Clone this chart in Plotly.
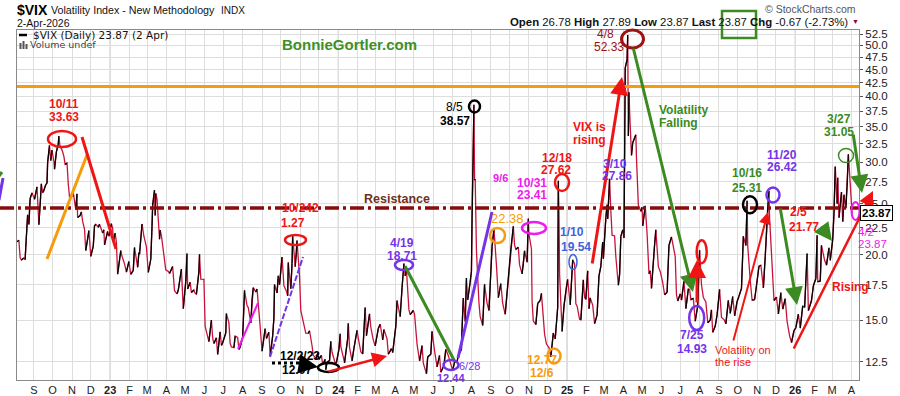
import plotly.graph_objects as go
import pandas as pd

# ---------------- data (VIX daily closes) ----------------
d2022 = ["2022-08-05","2022-08-08","2022-08-10","2022-08-12","2022-08-16","2022-08-18","2022-08-19","2022-08-22","2022-08-24","2022-08-26",
         "2022-08-29","2022-08-31","2022-09-02","2022-09-06","2022-09-08","2022-09-09","2022-09-13","2022-09-15","2022-09-16","2022-09-20",
         "2022-09-22","2022-09-23","2022-09-26","2022-09-28","2022-09-30","2022-10-03","2022-10-04","2022-10-07","2022-10-10","2022-10-11",
         "2022-10-13","2022-10-14","2022-10-17","2022-10-19","2022-10-21","2022-10-24","2022-10-26","2022-10-28","2022-10-31","2022-11-02",
         "2022-11-03","2022-11-07","2022-11-09","2022-11-10","2022-11-14","2022-11-16","2022-11-18","2022-11-21","2022-11-23","2022-11-28",
         "2022-11-30","2022-12-01","2022-12-05","2022-12-07","2022-12-09","2022-12-13","2022-12-15","2022-12-16","2022-12-20","2022-12-22",
         "2022-12-23","2022-12-28","2022-12-30"]
v2022 = [21.15,21.29,19.74,19.53,19.69,19.56,20.60,23.80,22.82,25.56,
         26.21,25.87,25.47,26.91,23.61,22.79,27.27,26.27,26.30,27.16,
         27.35,29.92,32.26,30.18,31.62,30.10,29.07,31.36,32.45,33.63,
         31.94,32.02,31.37,30.76,29.69,29.85,27.28,25.75,25.88,25.86,
         26.27,24.35,26.09,23.53,23.73,24.11,23.12,22.36,20.35,22.21,
         20.58,19.84,20.75,22.68,22.83,22.55,22.83,22.62,21.97,22.29,
         20.87,22.14,21.67]

d2023 = ["2023-01-03","2023-01-05","2023-01-06","2023-01-09","2023-01-11","2023-01-13","2023-01-18","2023-01-20","2023-01-24","2023-01-27",
         "2023-01-31","2023-02-02","2023-02-03","2023-02-07","2023-02-09","2023-02-14","2023-02-16","2023-02-17","2023-02-21","2023-02-24",
         "2023-02-28","2023-03-03","2023-03-07","2023-03-09","2023-03-10","2023-03-13","2023-03-14","2023-03-15","2023-03-17","2023-03-21",
         "2023-03-22","2023-03-24","2023-03-28","2023-03-31","2023-04-04","2023-04-06","2023-04-11","2023-04-14","2023-04-18","2023-04-20",
         "2023-04-25","2023-04-28","2023-05-02","2023-05-04","2023-05-05","2023-05-09","2023-05-11","2023-05-15","2023-05-17","2023-05-19",
         "2023-05-23","2023-05-24","2023-05-26","2023-05-31","2023-06-02","2023-06-06","2023-06-08","2023-06-12","2023-06-14","2023-06-16",
         "2023-06-20","2023-06-22","2023-06-26","2023-06-28","2023-06-30","2023-07-05","2023-07-06","2023-07-10","2023-07-12","2023-07-14",
         "2023-07-18","2023-07-20","2023-07-24","2023-07-26","2023-07-28","2023-08-01","2023-08-03","2023-08-04","2023-08-08","2023-08-10",
         "2023-08-14","2023-08-16","2023-08-18","2023-08-22","2023-08-24","2023-08-28","2023-08-31","2023-09-01","2023-09-06","2023-09-08",
         "2023-09-12","2023-09-14","2023-09-18","2023-09-20","2023-09-21","2023-09-25","2023-09-27","2023-09-29","2023-10-03","2023-10-05",
         "2023-10-06","2023-10-10","2023-10-12","2023-10-13","2023-10-17","2023-10-19","2023-10-20","2023-10-24","2023-10-26","2023-10-27",
         "2023-10-31","2023-11-02","2023-11-06","2023-11-08","2023-11-10","2023-11-14","2023-11-16","2023-11-20","2023-11-22","2023-11-27",
         "2023-11-29","2023-12-01","2023-12-05","2023-12-07","2023-12-11","2023-12-12","2023-12-14","2023-12-18","2023-12-20","2023-12-22",
         "2023-12-27","2023-12-29"]
v2023 = [22.90,22.46,21.13,21.97,21.09,18.35,20.34,19.85,19.20,18.51,
         19.40,18.73,18.33,18.66,20.63,18.91,20.17,20.02,22.87,21.67,
         20.70,18.49,19.59,22.61,24.80,26.52,23.73,26.14,25.51,21.38,
         22.26,21.74,19.97,18.70,18.58,18.40,18.97,17.07,16.83,17.10,
         18.76,15.78,17.78,20.09,17.19,17.71,16.93,17.12,16.87,16.81,
         18.53,20.03,17.95,17.94,14.60,13.96,13.65,15.01,13.88,13.54,
         13.88,12.91,14.25,13.43,13.59,14.18,15.44,14.84,13.54,13.34,
         13.30,13.99,13.91,13.19,13.33,13.93,15.92,17.10,15.99,15.85,
         14.82,16.46,17.30,16.97,17.20,15.08,13.57,13.09,14.45,13.84,
         14.23,12.82,14.00,15.14,17.54,16.90,18.22,17.52,19.78,18.58,
         17.45,17.03,16.69,19.32,17.21,19.22,21.71,18.97,20.19,21.27,
         18.14,15.66,14.89,14.45,14.17,14.16,14.32,13.41,12.85,12.69,
         12.98,12.63,12.85,12.35,12.63,12.07,12.48,12.56,13.67,13.03,
         12.43,12.45]

d2024 = ["2024-01-02","2024-01-04","2024-01-05","2024-01-09","2024-01-11","2024-01-16","2024-01-17","2024-01-19","2024-01-23","2024-01-26",
         "2024-01-31","2024-02-02","2024-02-06","2024-02-09","2024-02-13","2024-02-15","2024-02-20","2024-02-22","2024-02-26","2024-02-29",
         "2024-03-05","2024-03-08","2024-03-12","2024-03-14","2024-03-19","2024-03-21","2024-03-26","2024-03-28","2024-04-02","2024-04-04",
         "2024-04-09","2024-04-12","2024-04-15","2024-04-17","2024-04-19","2024-04-23","2024-04-25","2024-04-30","2024-05-02","2024-05-06",
         "2024-05-10","2024-05-14","2024-05-16","2024-05-21","2024-05-23","2024-05-28","2024-05-30","2024-06-03","2024-06-07","2024-06-11",
         "2024-06-13","2024-06-18","2024-06-21","2024-06-25","2024-06-28","2024-07-02","2024-07-05","2024-07-09","2024-07-11","2024-07-16",
         "2024-07-17","2024-07-19","2024-07-22","2024-07-24","2024-07-26","2024-07-30","2024-08-01","2024-08-02","2024-08-05","2024-08-06",
         "2024-08-07","2024-08-08","2024-08-09","2024-08-13","2024-08-15","2024-08-19","2024-08-22","2024-08-26","2024-08-29","2024-09-03",
         "2024-09-06","2024-09-10","2024-09-13","2024-09-17","2024-09-20","2024-09-24","2024-09-27","2024-10-01","2024-10-03","2024-10-07",
         "2024-10-09","2024-10-11","2024-10-15","2024-10-17","2024-10-21","2024-10-23","2024-10-25","2024-10-29","2024-10-31","2024-11-01",
         "2024-11-05","2024-11-06","2024-11-08","2024-11-12","2024-11-15","2024-11-19","2024-11-21","2024-11-26","2024-11-29","2024-12-03",
         "2024-12-06","2024-12-10","2024-12-13","2024-12-17","2024-12-18","2024-12-19","2024-12-20","2024-12-24","2024-12-27","2024-12-31"]
v2024 = [13.20,14.13,13.35,12.76,12.44,13.84,14.79,13.30,12.55,13.26,
         14.35,13.85,13.06,12.93,15.85,14.01,15.42,14.54,13.74,13.40,
         14.46,14.74,13.75,14.40,13.82,12.92,13.24,13.01,14.61,16.35,
         15.23,17.31,19.23,18.21,18.71,15.69,15.37,15.65,15.39,13.49,
         12.55,13.42,12.42,11.86,12.77,12.92,14.28,13.11,12.22,12.85,
         11.94,12.30,13.20,12.84,12.44,12.03,12.48,12.51,12.85,13.19,
         14.48,16.52,14.91,18.04,16.39,17.69,18.59,23.39,38.57,27.71,
         27.85,23.79,20.37,16.19,15.23,14.65,17.55,16.15,15.65,20.72,
         22.38,19.08,16.56,17.61,16.15,15.39,16.96,19.26,20.49,22.64,
         20.86,20.46,20.64,19.11,18.37,19.24,20.33,19.34,23.41,21.88,
         20.49,16.27,14.94,14.71,16.14,16.35,16.87,14.10,13.51,13.30,
         12.77,14.18,13.81,15.87,27.62,24.09,18.36,14.27,15.95,17.35]

d2025 = ["2025-01-02","2025-01-06","2025-01-08","2025-01-10","2025-01-13","2025-01-15","2025-01-17","2025-01-21","2025-01-23","2025-01-27",
         "2025-01-29","2025-01-31","2025-02-03","2025-02-05","2025-02-07","2025-02-11","2025-02-14","2025-02-18","2025-02-21","2025-02-24",
         "2025-02-27","2025-02-28","2025-03-04","2025-03-06","2025-03-07","2025-03-10","2025-03-12","2025-03-14","2025-03-18","2025-03-20",
         "2025-03-24","2025-03-26","2025-03-28","2025-03-31","2025-04-02","2025-04-03","2025-04-04","2025-04-07","2025-04-08","2025-04-09",
         "2025-04-10","2025-04-11","2025-04-14","2025-04-16","2025-04-21","2025-04-22","2025-04-24","2025-04-25","2025-04-29","2025-05-01",
         "2025-05-02","2025-05-06","2025-05-09","2025-05-12","2025-05-14","2025-05-16","2025-05-21","2025-05-23","2025-05-27","2025-05-30",
         "2025-06-03","2025-06-06","2025-06-10","2025-06-13","2025-06-17","2025-06-20","2025-06-23","2025-06-25","2025-06-27","2025-07-01",
         "2025-07-03","2025-07-07","2025-07-10","2025-07-14","2025-07-16","2025-07-18","2025-07-22","2025-07-25","2025-07-29","2025-08-01",
         "2025-08-04","2025-08-07","2025-08-11","2025-08-14","2025-08-18","2025-08-20","2025-08-22","2025-08-26","2025-08-29","2025-09-02",
         "2025-09-05","2025-09-09","2025-09-12","2025-09-16","2025-09-19","2025-09-23","2025-09-26","2025-09-30","2025-10-03","2025-10-07",
         "2025-10-10","2025-10-14","2025-10-16","2025-10-17","2025-10-21","2025-10-24","2025-10-28","2025-10-31","2025-11-04","2025-11-07",
         "2025-11-11","2025-11-14","2025-11-18","2025-11-20","2025-11-21","2025-11-25","2025-11-28","2025-12-02","2025-12-05","2025-12-09",
         "2025-12-12","2025-12-16","2025-12-19","2025-12-23","2025-12-26","2025-12-30"]
v2025 = [17.93,16.04,17.70,19.54,19.19,16.12,15.97,15.06,15.02,17.90,
         16.56,16.43,18.62,15.77,16.54,16.02,14.77,15.35,18.21,18.98,
         21.13,19.63,23.51,24.87,23.37,27.86,24.23,21.77,21.70,19.80,
         17.48,18.33,21.65,22.28,21.51,30.02,45.31,46.98,52.33,33.62,
         40.72,37.56,30.89,32.64,33.82,30.57,26.47,24.84,24.17,24.60,
         22.68,24.76,21.90,18.39,18.62,17.24,20.87,22.29,18.96,18.57,
         17.69,16.77,16.95,20.82,21.60,20.62,19.83,16.76,16.32,16.83,
         16.38,17.79,15.78,17.20,17.16,16.41,16.50,14.93,15.98,20.38,
         17.52,16.57,16.25,14.83,15.00,15.69,14.22,14.62,15.36,17.17,
         15.18,15.04,14.76,16.36,15.45,16.64,15.29,16.28,16.65,17.24,
         21.66,20.81,25.31,20.78,17.87,16.37,16.42,17.44,19.00,19.08,
         17.28,19.83,24.69,26.42,23.43,18.56,16.35,16.59,15.41,16.93,
         15.74,16.48,14.91,14.00,13.60,14.33]

d2026 = ["2026-01-02","2026-01-06","2026-01-09","2026-01-13","2026-01-16","2026-01-20","2026-01-22","2026-01-27","2026-01-30","2026-02-03",
         "2026-02-05","2026-02-06","2026-02-10","2026-02-12","2026-02-17","2026-02-20","2026-02-24","2026-02-26","2026-03-02","2026-03-04",
         "2026-03-06","2026-03-09","2026-03-10","2026-03-12","2026-03-16","2026-03-18","2026-03-20","2026-03-23","2026-03-25","2026-03-27",
         "2026-03-30","2026-03-31","2026-04-01","2026-04-02"]
v2026 = [14.51,15.40,14.49,15.98,15.86,20.09,15.64,16.35,17.44,18.00,
         21.77,17.76,17.79,20.82,19.50,19.09,20.60,19.50,21.40,24.00,
         29.40,25.00,28.00,23.50,26.30,23.10,26.00,24.50,27.00,31.05,
         27.20,25.50,24.54,23.87]

vix_dates = d2022 + d2023 + d2024 + d2025 + d2026
vix_close = v2022 + v2023 + v2024 + v2025 + v2026

month_letters = ["J", "F", "M", "A", "M", "J", "J", "A", "S", "O", "N", "D"]
y_ticks = [12.5, 15.0, 17.5, 20.0, 22.5, 25.0, 27.5, 30.0, 32.5, 35.0, 37.5, 40.0, 42.5, 45.0, 47.5, 50.0, 52.5]

# ---------------- styling / helpers ----------------
FONT = "Liberation Sans, Arial, sans-serif"
RED = "#f01515"
DARKRED = "#9b1313"
GREEN = "#3c8a22"
ORANGE = "#f59b0c"
PURPLE = "#7434e8"
MAGENTA = "#ee1aee"
BLUE = "#3f63dc"
LINE_RED = "#c8143c"

L, R, T, B = 17.0, 859.0, 30.0, 380.0


def px(x):
    return (x - L) / (R - L)


def py(y):
    return (B - y) / (B - T)


shapes = []
annotations = []


def text(x, y, s, color, size=12, bold=True, anchor="center", family=FONT):
    annotations.append(dict(xref="paper", yref="paper", x=px(x), y=py(y),
                            text=("<b>%s</b>" % s) if bold else s, showarrow=False,
                            font=dict(color=color, size=size, family=family),
                            xanchor=anchor, yanchor="middle"))


def ellipse(cx, cy, w, h, color, lw=2.5):
    shapes.append(dict(type="circle", xref="paper", yref="paper",
                       x0=px(cx - w / 2), x1=px(cx + w / 2), y0=py(cy + h / 2), y1=py(cy - h / 2),
                       line=dict(color=color, width=lw)))


def seg(x0, y0, x1, y1, color, lw=3, dash="solid"):
    shapes.append(dict(type="line", xref="paper", yref="paper",
                       x0=px(x0), y0=py(y0), x1=px(x1), y1=py(y1),
                       line=dict(color=color, width=lw, dash=dash)))


def arrow(x0, y0, x1, y1, color, lw=3, size=1.2):
    annotations.append(dict(xref="paper", yref="paper", x=px(x1), y=py(y1),
                            ax=x0 - x1, ay=y0 - y1, axref="pixel", ayref="pixel",
                            text="", showarrow=True, arrowhead=2, arrowsize=size,
                            arrowwidth=lw, arrowcolor=color))


# ---------------- traces ----------------
dates = pd.to_datetime(vix_dates)
up_x, up_y = [], []
for i in range(1, len(vix_close)):
    if vix_close[i] > vix_close[i - 1]:
        up_x += [dates[i - 1], dates[i], None]
        up_y += [vix_close[i - 1], vix_close[i], None]

fig = go.Figure()
fig.add_trace(go.Scatter(x=dates, y=vix_close, mode="lines",
                         line=dict(color=LINE_RED, width=1.3), hoverinfo="skip"))
fig.add_trace(go.Scatter(x=up_x, y=up_y, mode="lines", connectgaps=False,
                         line=dict(color="black", width=1.3), hoverinfo="skip"))

# ---------------- axes ticks ----------------
months = pd.date_range("2022-09-01", "2026-04-01", freq="MS")
tick_text = [("<b>%02d</b>" % (m.year % 100)) if m.month == 1 else month_letters[m.month - 1] for m in months]
for yr in [2023, 2024, 2025, 2026]:
    shapes.append(dict(type="line", xref="x", yref="paper", x0="%d-01-01" % yr, x1="%d-01-01" % yr,
                       y0=0, y1=1, line=dict(color="#b5b5b5", width=1), layer="between"))

# ---------------- chart annotations ----------------
seg(L, 86.5, R, 86.5, ORANGE, 3)                                   # orange level
seg(0, 208, 860, 208, "#8b0b0b", 3.5, "14px,4px,3px,4px")          # resistance
text(397, 199, "Resistance", "#6e3222", 12.5)

seg(-1, 200, 3, 178, PURPLE, 3)
seg(-1, 176, 2, 172, GREEN, 3)

ellipse(62, 139, 28, 16, RED)
text(64, 104, "10/11", RED)
text(64, 117, "33.63", RED)
seg(47, 259, 87, 155, ORANGE, 3)
seg(82, 137, 116, 249, RED, 3)

seg(238, 349, 258, 303, MAGENTA, 2)
seg(270, 357, 303, 257, PURPLE, 2, "6px,2px")
ellipse(295.5, 240, 21, 10, RED)
text(300, 208, "10/242", RED)
text(293, 223, "1.27", RED)

seg(272, 363, 302, 363, "black", 3, "dot")
arrow(300, 364, 318, 367, "black", 3, 1.3)
ellipse(328.5, 367.5, 21, 9, "black")
text(300, 356, "12/2/23", "black")
text(297, 370, "12.07", "black")
arrow(327, 372, 387, 356, RED, 2.5)

ellipse(404, 265, 18, 10, PURPLE)
text(402, 243, "4/19", PURPLE)
text(402, 256, "18.71", PURPLE)
seg(405, 266, 455, 362, GREEN, 3)
ellipse(451, 365, 15, 10, PURPLE)
text(469, 366, "6/28", PURPLE, 11, False)
text(451, 378, "12.44", PURPLE, 11)
seg(458, 358, 492, 212, PURPLE, 3)

ellipse(474.5, 106.5, 11, 12, "black")
text(455, 107, "8/5", "black", 12, False)
text(455, 121, "38.57", "black")

text(500, 178, "9/6", MAGENTA, 11)
text(507, 218, "22.38", ORANGE, 13, False)
ellipse(497.5, 235.5, 15, 15, ORANGE)

ellipse(534, 228, 24, 12, MAGENTA)
text(532, 183, "10/31", MAGENTA)
text(532, 195, "23.41", MAGENTA)

ellipse(562, 182.5, 14, 17, RED)
text(557, 158, "12/18", RED)
text(556, 170, "27.62", RED)

ellipse(573, 262, 8, 15, BLUE, 1.5)
text(572, 232, "1/10", BLUE)
text(576, 247, "19.54", BLUE)

ellipse(554, 356, 13, 15, ORANGE)
text(542, 360, "12.77", ORANGE)
text(542, 373, "12/6", ORANGE)

text(589, 127, "VIX is", RED)
text(589, 140, "rising", RED)
arrow(592, 265, 622, 77, RED, 3)

text(615, 164, "3/10", PURPLE)
text(617, 176, "27.86", PURPLE)

ellipse(632.5, 39, 22, 18, DARKRED, 3)
text(605, 34, "4/8", DARKRED, 12, False)
text(609, 47, "52.33", DARKRED, 12, False)

arrow(633, 47, 693, 292, GREEN, 3)
text(657, 110, "Volatility", GREEN, 12, True, "left")
text(657, 123, "Falling", GREEN, 12, True, "left")

ellipse(696.7, 318, 15, 24, PURPLE)
text(692, 335, "7/25", PURPLE)
text(692, 349, "14.93", PURPLE)
arrow(697, 304, 697, 260, RED, 3)
ellipse(701.7, 251.7, 10, 23, RED)

text(713, 350, "Volatility on", RED, 11, False, "left")
text(713, 362, "the rise", RED, 11, False, "left")
arrow(733, 342, 768, 212, RED, 2)

ellipse(750, 204.7, 14, 17, "black")
text(747, 173, "10/16", GREEN)
text(747, 188, "25.31", GREEN)

ellipse(773, 195, 13, 15, PURPLE)
text(782, 155, "11/20", PURPLE)
text(782, 167, "26.42", PURPLE)
arrow(780, 207, 797, 305, GREEN, 3)

text(798, 212, "2/5", RED)
text(804, 227, "21.77", RED)
arrow(820, 225, 832, 241, GREEN, 3)

arrow(793, 350, 873, 191, RED, 2.5)
text(850, 287, "Rising", RED, 12)

ellipse(846, 155.5, 15, 14, GREEN, 1.5)
text(839, 119, "3/27", GREEN)
text(839, 132, "31.05", GREEN)
arrow(853, 133, 862, 193, GREEN, 3)

ellipse(855.5, 211, 8, 18, MAGENTA, 2)
text(856, 232, "4/2", MAGENTA, 11.5, False, "left")
text(856, 244, "23.87", MAGENTA, 11.5, False, "left")

# last value box on axis
annotations.append(dict(xref="paper", yref="paper", x=px(860), y=py(213), xanchor="left", yanchor="middle",
                        text="<b>23.87</b>", showarrow=False, bgcolor="white", bordercolor="black",
                        borderwidth=1, borderpad=1, font=dict(size=11.5, color="black", family=FONT)))

# ---------------- header ----------------
text(15, 10, "$VIX", "black", 14, True, "left")
text(49, 10, "Volatility Index - New Methodology", "#111", 10.7, False, "left")
text(219, 10.5, "INDX", "#111", 10, False, "left")
text(15, 23, "2-Apr-2026", "#111", 10.5, False, "left")
text(858, 9, "\u00a9 StockCharts.com", "#555", 10.5, False, "right")
text(850, 22, "<b>Open</b> 26.78 <b>High</b> 27.89 <b>Low</b> 23.87 <b>Last</b> 23.87 <b>Chg</b> -0.67 (-2.73%)",
     "#111", 11.4, False, "right")
text(855, 22, "\u25bc", "#8b0b2b", 7, False, "center")
shapes.append(dict(type="rect", xref="paper", yref="paper", x0=px(722), x1=px(756), y0=py(38), y1=py(11),
                   line=dict(color=GREEN, width=2.5)))

# in-plot legend
seg(19, 35, 27, 35, "black", 2.5)
text(31, 35, "$VIX (Daily) 23.87 (2 Apr)", "#111", 10.5, False, "left", "DejaVu Sans")
for bx, bh in [(19.5, 6), (22.5, 8), (25.5, 5)]:
    shapes.append(dict(type="rect", xref="paper", yref="paper", x0=px(bx), x1=px(bx + 2),
                       y0=py(49), y1=py(49 - bh), line=dict(width=0), fillcolor="#555"))
text(28, 45, "Volume undef", "#444", 9.5, False, "left", "DejaVu Sans")
text(349.5, 44, "BonnieGortler.com", "#3f8f27", 15, True, "center")

# ---------------- layout ----------------
fig.update_layout(
    width=900, height=396, autosize=False,
    margin=dict(l=L, r=900 - R, t=T, b=396 - B, pad=0, autoexpand=False),
    paper_bgcolor="white", plot_bgcolor="white",
    showlegend=False,
    font=dict(family=FONT, size=11, color="#222"),
    shapes=shapes, annotations=annotations,
    xaxis=dict(type="date", range=["2022-08-05", "2026-04-13"],
               tickmode="array", tickvals=list(months), ticktext=tick_text,
               showgrid=True, gridcolor="#dedede", gridwidth=1, ticks="",
               tickfont=dict(size=11, color="#222"), showline=True, linecolor="#8a8a8a",
               linewidth=1, mirror=True, zeroline=False, fixedrange=True, automargin=False),
    yaxis=dict(type="log", range=[1.0622, 1.7284], side="right",
               tickmode="array", tickvals=y_ticks, ticktext=["%.1f" % v for v in y_ticks],
               ticks="outside", ticklen=3, tickcolor="#555",
               showgrid=True, gridcolor="#dedede", gridwidth=1,
               tickfont=dict(size=11.5, color="#222"), showline=True, linecolor="#8a8a8a",
               linewidth=1, mirror=True, zeroline=False, fixedrange=True, automargin=False),
)

fig.write_html("out.html", config={"displayModeBar": False},
               post_script="document.body.style.margin='0px';document.body.style.overflow='hidden';")
